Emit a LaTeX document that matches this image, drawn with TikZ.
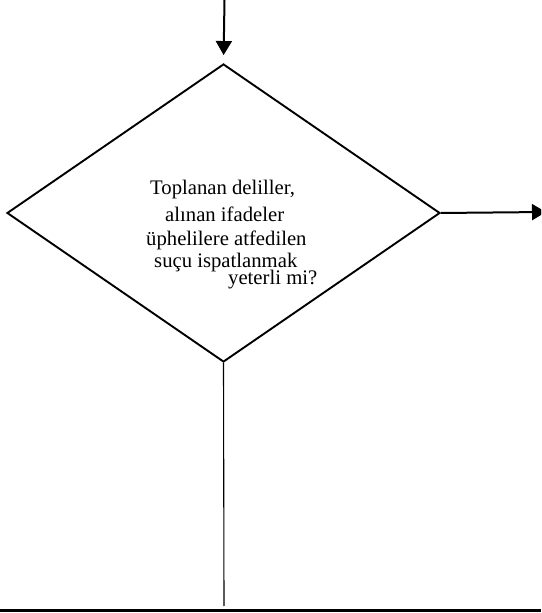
\documentclass[tikz,border=0pt]{standalone}
\usepackage{fontspec}
\setmainfont{Liberation Serif}
\usetikzlibrary{shapes.geometric,arrows.meta}
\begin{document}
\begin{tikzpicture}[x=1pt,y=1pt,
  conn/.style={line width=2pt},
  headarrow/.style={-{Triangle[width=16pt,length=14pt]}},
  txt/.style={anchor=base west,inner sep=0pt,font=\fontsize{20.7}{24}\selectfont}]
\useasboundingbox (0,0) rectangle (541,613);
\clip (0,0) rectangle (541,613);
\node[diamond,draw,line width=1.9pt,minimum width=433pt,minimum height=298pt,inner sep=0pt] (d) at (223.5,400) {};
\coordinate (topin) at (224.5,613);
\coordinate (rightout) at (546,401);
\coordinate (botend) at (224,7);
\coordinate (bl) at (0,2);
\coordinate (br) at (541,2);
\draw[conn,headarrow,shorten >=8pt] (topin) -- (d.north);
\draw[conn,headarrow] (d.east) -- (rightout);
\draw[line width=1.1pt] (d.south) -- (botend);
\draw[line width=3pt] (bl) -- (br);
\node[txt] (t1) at (150,418) {Toplanan deliller,};
\node[txt] (t2) at (165,391) {alınan ifadeler};
\node[txt] (t3) at (146,367) {üphelilere atfedilen};
\node[txt] (t4) at (154,345) {suçu ispatlanmak};
\node[txt] (t5) at (228,328) {yeterli mi?};
\end{tikzpicture}
\end{document}
